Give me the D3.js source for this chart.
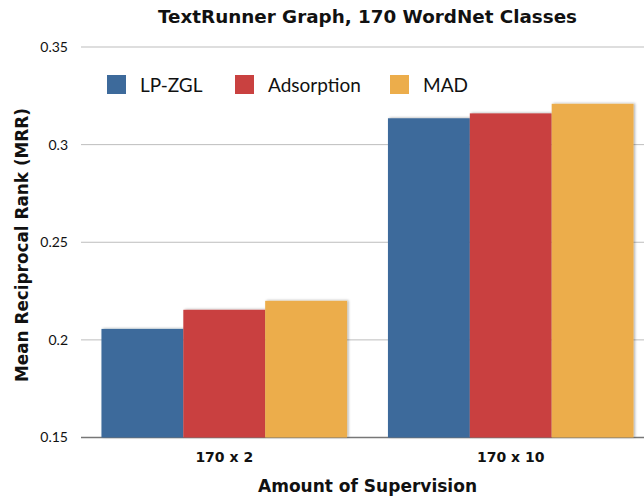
<!DOCTYPE html>
<html>
<head>
<meta charset="utf-8">
<script src="https://cdn.jsdelivr.net/npm/d3@7"></script>
<style>
  body { margin: 0; background: #fff; }
  text { font-family: Lato, "Open Sans", sans-serif; fill: #111; }
  .bold { font-family: "DejaVu Sans", sans-serif; font-weight: bold; }
</style>
</head>
<body>
<svg id="chart" width="644" height="498"></svg>
<script>
// Data -------------------------------------
var groups = ['170 x 2', '170 x 10'];
var series = ['LP-ZGL', 'Adsorption', 'MAD'];
var lpzgl = [0.2056, 0.3135];
var adsorption = [0.2154, 0.316];
var mad = [0.2200, 0.3209];
var yTicks = [0.15, 0.2, 0.25, 0.3, 0.35];
var colors = ['#3d6a9b', '#c94140', '#ecad4b'];

var values = [lpzgl, adsorption, mad];

var svg = d3.select('#chart');
var width = 644, height = 498;

// Scales -------------------------------------
var x = d3.scaleBand().domain(groups).range([81, 654]).padding(0);
var xSub = d3.scaleBand().domain(series).range([0, x.bandwidth()]).paddingInner(0).paddingOuter(0.25);
var y = d3.scaleLinear().domain([0.15, 0.35]).range([437.5, 47]);

// shadow filter for bars
var defs = svg.append('defs');
var f = defs.append('filter').attr('id', 'shadow').attr('x', '-10%').attr('y', '-10%').attr('width', '130%').attr('height', '120%');
f.append('feDropShadow').attr('dx', 1.5).attr('dy', -0.5).attr('stdDeviation', 1).attr('flood-color', '#000').attr('flood-opacity', 0.3);

// Grid -------------------------------------
svg.append('g')
  .selectAll('line')
  .data(yTicks)
  .enter()
  .append('line')
  .attr('x1', 81)
  .attr('x2', width)
  .attr('y1', function(d) { return y(d); })
  .attr('y2', function(d) { return y(d); })
  .attr('stroke', function(d) { return d === 0.15 ? '#777' : '#bdbdbd'; })
  .attr('stroke-width', function(d) { return d === 0.15 ? 1.5 : 1; });

var yAxis = d3.axisLeft(y).tickValues(yTicks).tickSize(0).tickPadding(0)
  .tickFormat(function(d) { return String(+d.toFixed(2)); });
var ax = svg.append('g').attr('transform', 'translate(68,0)').call(yAxis);
ax.select('.domain').remove();
ax.selectAll('text').style('font-family', 'Lato, sans-serif').style('font-size', '14px').attr('fill', '#111');

// Bars -------------------------------------
var g = svg.selectAll('.grp')
  .data(groups)
  .enter()
  .append('g')
  .attr('transform', function(d) { return 'translate(' + x(d) + ',0)'; });

g.selectAll('rect')
  .data(function(d, gi) {
    return series.map(function(s, si) { return { s: s, i: si, v: values[si][gi] }; });
  })
  .enter()
  .append('rect')
  .attr('x', function(d) { return xSub(d.s); })
  .attr('width', xSub.bandwidth())
  .attr('y', function(d) { return y(d.v); })
  .attr('height', function(d) { return y(0.15) - y(d.v); })
  .attr('fill', function(d) { return colors[d.i]; })
  .attr('filter', 'url(#shadow)');

// X labels
svg.selectAll('.xl')
  .data(groups)
  .enter()
  .append('text')
  .attr('class', 'bold')
  .attr('x', function(d) { return x(d) + xSub(series[1]) + xSub.bandwidth() / 2; })
  .attr('y', 462)
  .attr('text-anchor', 'middle')
  .style('font-size', '14px')
  .text(function(d) { return d; });

// Titles
svg.append('text')
  .attr('class', 'bold')
  .attr('x', 367.5).attr('y', 23)
  .attr('text-anchor', 'middle')
  .attr('textLength', 419).attr('lengthAdjust', 'spacingAndGlyphs')
  .style('font-size', '18px')
  .text('TextRunner Graph, 170 WordNet Classes');

svg.append('text')
  .attr('class', 'bold')
  .attr('x', 367.5).attr('y', 492)
  .attr('text-anchor', 'middle')
  .attr('textLength', 219).attr('lengthAdjust', 'spacingAndGlyphs')
  .style('font-size', '18px')
  .text('Amount of Supervision');

svg.append('text')
  .attr('class', 'bold')
  .attr('transform', 'translate(28,245) rotate(-90)')
  .attr('text-anchor', 'middle')
  .attr('textLength', 274).attr('lengthAdjust', 'spacingAndGlyphs')
  .style('font-size', '18.5px')
  .text('Mean Reciprocal Rank (MRR)');

// Legend
var legendX = [107, 235, 390];
var lg = svg.selectAll('.lg')
  .data(series)
  .enter()
  .append('g')
  .attr('transform', function(d, i) { return 'translate(' + legendX[i] + ',75)'; });
lg.append('rect').attr('width', 19).attr('height', 19).attr('fill', function(d, i) { return colors[i]; });
lg.append('text').attr('x', 33).attr('y', 17).style('font-size', '19px').text(function(d) { return d; });
</script>
</body>
</html>
